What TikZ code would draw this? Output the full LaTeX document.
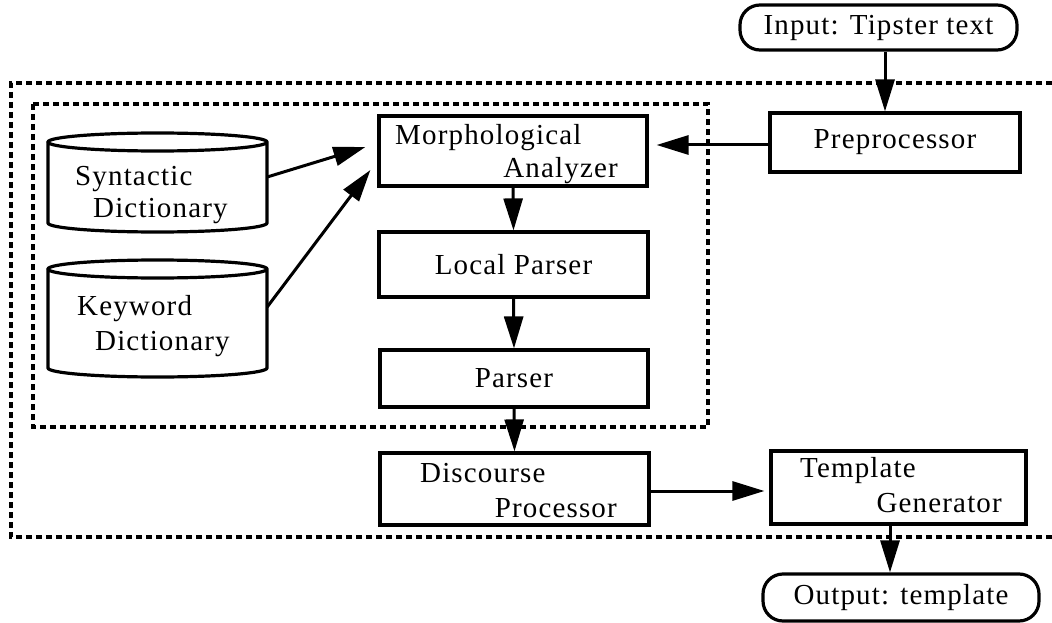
\documentclass[tikz,border=0pt]{standalone}
\usepackage{fontspec}
\setmainfont[LetterSpace=4]{Liberation Serif}
\usetikzlibrary{arrows.meta,calc}

\begin{document}
\begin{tikzpicture}[x=1pt,y=1pt,
  box/.style={draw, line width=3.2pt, rectangle, inner sep=0pt,
              font=\fontsize{29}{34}\selectfont},
  term/.style={box, rounded corners=20pt},
  lbl/.style={inner sep=0pt, font=\fontsize{29}{34}\selectfont},
  frame/.style={line width=3.4pt, dash pattern=on 6pt off 4pt},
  cyl/.style={draw, line width=3.2pt},
  arr/.style={line width=3pt, -{Triangle[length=32pt,width=19pt]}}]

\useasboundingbox (0,0) rectangle (1052,-623);

% system boundary (open on the right) and the analysis sub-system
\draw[frame] (1052,-83) -- (11,-83) -- (11,-537) -- (1052,-537);
\draw[frame] (33,-104) rectangle (708,-427);

% terminals
\node[term, minimum width=277pt, minimum height=45pt] (in) at (878.5,-27.5) {Input: Tipster text};
\node[term, minimum width=276pt, minimum height=47pt] (out) at (901,-597.5) {Output: template};

% processing stages
\node[box, minimum width=250pt, minimum height=59pt] (pre) at (895,-142.5) {Preprocessor};
\node[box, minimum width=268pt, minimum height=70pt] (morph) at (513,-151) {};
\node[lbl, anchor=base west] (morph1) at (395,-145) {Morphological};
\node[lbl, anchor=base east] (morph2) at (618,-178) {Analyzer};
\node[box, minimum width=269pt, minimum height=65pt] (lp) at (513.5,-264.5) {Local Parser};
\node[box, minimum width=268pt, minimum height=57pt] (parser) at (514,-378.5) {Parser};
\node[box, minimum width=269pt, minimum height=72pt] (disc) at (514.5,-489) {};
\node[lbl, anchor=base west] (disc1) at (420,-482) {Discourse};
\node[lbl, anchor=base east] (disc2) at (617,-517) {Processor};
\node[box, minimum width=255pt, minimum height=73pt] (tmpl) at (898.5,-487.5) {};
\node[lbl, anchor=base west] (tmpl1) at (800,-477) {Template};
\node[lbl, anchor=base east] (tmpl2) at (1002,-512) {Generator};

% dictionaries (cylinders)
\draw[cyl] (48,-142) -- (48,-223)
  arc[start angle=180, end angle=360, x radius=109.5pt, y radius=9pt]
  -- (267,-142)
  arc[start angle=0, end angle=180, x radius=109.5pt, y radius=9pt]
  arc[start angle=180, end angle=360, x radius=109.5pt, y radius=9pt];
\node[inner sep=0pt, minimum width=219pt, minimum height=99pt] (syn) at (157.5,-182.5) {};
\node[lbl, anchor=base west] (syn1) at (75,-185) {Syntactic};
\node[lbl, anchor=base west] (syn2) at (93,-217) {Dictionary};

\draw[cyl] (48,-269) -- (48,-368)
  arc[start angle=180, end angle=360, x radius=109.5pt, y radius=9pt]
  -- (267,-269)
  arc[start angle=0, end angle=180, x radius=109.5pt, y radius=9pt]
  arc[start angle=180, end angle=360, x radius=109.5pt, y radius=9pt];
\node[inner sep=0pt, minimum width=219pt, minimum height=117pt] (kw) at (157.5,-318.5) {};
\node[lbl, anchor=base west] (kw1) at (77,-315) {Keyword};
\node[lbl, anchor=base west] (kw2) at (95,-350) {Dictionary};

% data flow
\draw[arr] ([xshift=6.5pt]in.south) -- ([xshift=6.5pt]in.south |- pre.north);
\draw[arr, shorten >=8pt] ([yshift=-2.5pt]pre.west) -- ([yshift=-2.5pt]pre.west -| morph.east);
\draw[arr] ([yshift=5.5pt]syn.east) -- ([shift={(-12pt,4pt)}]morph.west);
\draw[arr] ([yshift=11.5pt]kw.east) -- ([shift={(-7pt,-19pt)}]morph.west);
\draw[arr] (morph.south) -- (lp.north);
\draw[arr] (lp.south) -- (parser.north);
\draw[arr] (parser.south) -- (disc.north);
\draw[arr, shorten >=5pt] ([yshift=-2pt]disc.east) -- ([yshift=-2pt]disc.east -| tmpl.west);
\draw[arr] ([xshift=-8.5pt]tmpl.south) -- ([xshift=-8.5pt]tmpl.south |- out.north);
\end{tikzpicture}
\end{document}
